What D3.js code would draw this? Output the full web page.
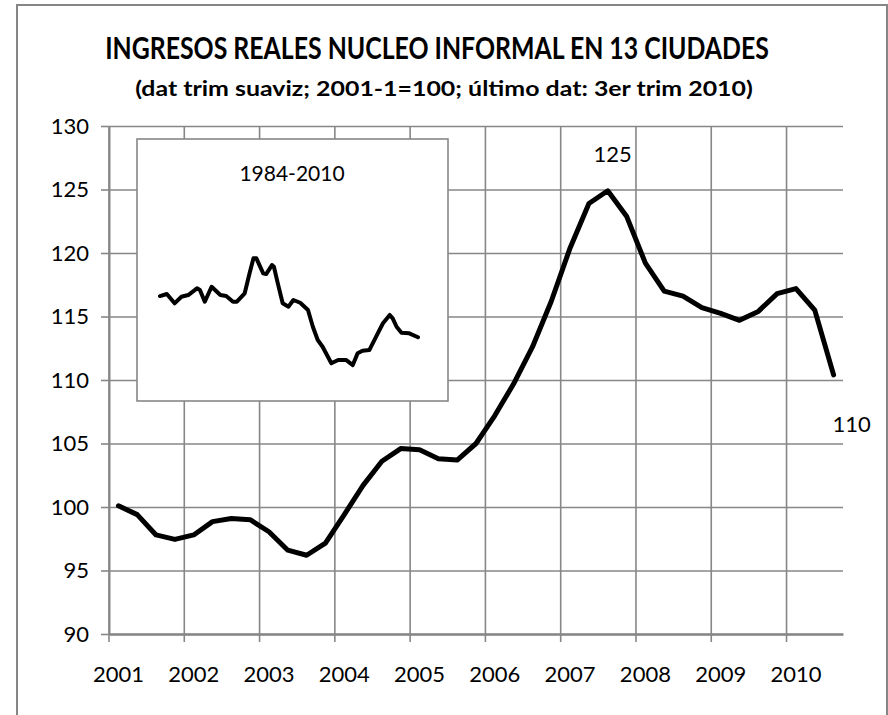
<!DOCTYPE html>
<html>
<head>
<meta charset="utf-8">
<script src="https://cdn.jsdelivr.net/npm/d3@7"></script>
<style>
  body { margin: 0; background: #fff; }
  text { font-family: Lato, "Open Sans", sans-serif; fill: #000; }
</style>
</head>
<body>
<div class="chart-container"></div>
<script>
// Data
// quarterly index, 2001-1 .. 2010-3 (2001-1 = 100)
const years = [2001, 2002, 2003, 2004, 2005, 2006, 2007, 2008, 2009, 2010];
const quarters = years.flatMap(y => [1, 2, 3, 4].map(q => `${y}-${q}`)).slice(0, 39);
const incomeIndex = [
  100.1, 99.4, 97.8, 97.45, 97.8, 98.85, 99.1, 99.0, 98.05, 96.6,
  96.2, 97.15, 99.4, 101.7, 103.6, 104.6, 104.5, 103.8, 103.7, 105.0,
  107.2, 109.7, 112.6, 116.2, 120.4, 123.9, 124.9, 122.9, 119.2, 117.0,
  116.6, 115.7, 115.25, 114.7, 115.4, 116.8, 117.2, 115.5, 110.4
];
const yTicks = [90, 95, 100, 105, 110, 115, 120, 125, 130];

// inset 1984-2010 (own hidden scale)
const insetYears = [1984.0, 1984.7, 1985.5, 1986.2, 1986.9, 1987.8, 1988.1, 1988.6, 1989.3, 1990.2,
  1990.8, 1991.5, 1991.9, 1992.7, 1993.2, 1993.6, 1993.9, 1994.6, 1994.9, 1995.5,
  1995.7, 1996.1, 1996.6, 1997.2, 1997.7, 1998.4, 1999.2, 1999.7, 2000.2, 2000.7,
  2001.6, 2002.3, 2003.1, 2003.8, 2004.3, 2004.8, 2005.5, 2006.2, 2006.9, 2007.6,
  2007.9, 2008.3, 2008.8, 2009.6, 2010.5];
const insetValues = [137.1, 138.5, 132.1, 136.6, 137.8, 142.4, 141.2, 133.2, 143.5, 137.8,
  137.1, 133.2, 133.2, 139.0, 152.7, 163.0, 163.0, 152.7, 152.2, 158.4,
  157.2, 145.8, 132.1, 129.8, 134.4, 132.5, 127.5, 116.0, 106.9, 102.3,
  90.9, 93.2, 93.2, 89.7, 97.8, 99.5, 100.0, 109.2, 118.4, 124.1,
  121.8, 116.0, 111.9, 111.5, 108.8];

const titleText = 'INGRESOS REALES NUCLEO INFORMAL EN 13 CIUDADES';
const subtitleText = '(dat trim suaviz;  2001-1=100; último dat: 3er trim 2010)';

const data = quarters.map((q, i) => ({ q, v: incomeIndex[i] }));
const insetData = insetYears.map((y, i) => ({ y, v: insetValues[i] }));

// scale a text horizontally so it spans a given width (as in the original)
function fitWidth(sel, cx, cy, targetWidth) {
  const natural = sel.node().getComputedTextLength();
  const k = targetWidth / natural;
  sel.attr('transform', `translate(${cx},${cy}) scale(${k},1)`);
}

function setupCanvas() {
  const svg_width = 888, svg_height = 715;
  const margin = { top: 126, bottom: 81, left: 109, right: 45 };
  const width = svg_width - margin.left - margin.right;
  const height = svg_height - margin.top - margin.bottom;
  const grid = '#878787';

  const svg = d3.select('.chart-container').append('svg')
    .attr('width', svg_width).attr('height', svg_height);

  // chart frame
  svg.append('rect').attr('x', 17).attr('y', 5).attr('width', 870).attr('height', 740)
    .attr('fill', '#fff').attr('stroke', '#868686').attr('stroke-width', 2);

  // titles
  const title = svg.append('text').attr('text-anchor', 'middle')
    .style('font-size', '30px').style('font-weight', 'bold').text(titleText);
  fitWidth(title, 437, 59, 664);
  const subtitle = svg.append('text').attr('text-anchor', 'middle')
    .style('font-size', '20px').style('font-weight', 'bold').text(subtitleText);
  fitWidth(subtitle, 444, 96, 618);

  const g = svg.append('g').attr('transform', `translate(${margin.left},${margin.top})`);

  // scales
  const xScale = d3.scaleBand().domain(quarters).range([0, width]).paddingInner(0).paddingOuter(0);
  const yScale = d3.scaleLinear().domain([90, 130]).range([height, 0]);
  const xLine = d => xScale(d.q) + xScale.bandwidth() / 2;

  // horizontal gridlines
  g.append('g').attr('class', 'y grid')
    .call(d3.axisLeft(yScale).tickValues(yTicks).tickSize(-width).tickFormat(''))
    .call(s => s.select('.domain').remove())
    .call(s => s.selectAll('line').attr('stroke', grid).attr('stroke-width', 1.6));

  // vertical gridlines at year boundaries
  const yearStarts = quarters.filter(q => q.endsWith('-1'));
  g.append('g').attr('class', 'x grid').selectAll('line')
    .data(yearStarts).enter().append('line')
    .attr('x1', d => xScale(d)).attr('x2', d => xScale(d))
    .attr('y1', 0).attr('y2', height + 8)
    .attr('stroke', grid).attr('stroke-width', 1.6);

  // y axis
  const yAxis = g.append('g').attr('class', 'y axis')
    .call(d3.axisLeft(yScale).tickValues(yTicks).tickSize(8).tickPadding(12).tickSizeOuter(0));
  yAxis.select('.domain').attr('stroke', grid).attr('stroke-width', 2);
  yAxis.selectAll('line').attr('stroke', grid).attr('stroke-width', 1.6);
  yAxis.selectAll('text').style('font-size', '22px').style('font-family', 'Lato, sans-serif').attr('fill', '#000');

  // x axis: labels centred on first quarter of each year
  const xAxis = g.append('g').attr('class', 'x axis').attr('transform', `translate(0,${height})`)
    .call(d3.axisBottom(xScale).tickValues(yearStarts).tickSize(0).tickPadding(32)
      .tickFormat(d => d.split('-')[0]));
  xAxis.select('.domain').attr('stroke', grid).attr('stroke-width', 2.6);
  xAxis.selectAll('text').style('font-size', '22px').style('font-family', 'Lato, sans-serif').attr('fill', '#000');

  // main line
  const line = d3.line().x(xLine).y(d => yScale(d.v));
  g.append('path').datum(data).attr('d', line)
    .attr('fill', 'none').attr('stroke', '#000').attr('stroke-width', 5)
    .attr('stroke-linejoin', 'round').attr('stroke-linecap', 'round');

  // labels for peak and last value
  const peak = data.reduce((a, b) => (b.v > a.v ? b : a));
  const last = data[data.length - 1];
  g.append('text').attr('x', xLine(peak) + 5).attr('y', yScale(peak.v) - 29)
    .attr('text-anchor', 'middle').style('font-size', '22px').text(d3.format('.0f')(peak.v));
  g.append('text').attr('x', xLine(last) + 18).attr('y', yScale(last.v) + 57)
    .attr('text-anchor', 'middle').style('font-size', '22px').text(d3.format('.0f')(last.v));

  // inset 1984-2010
  const inset = { x: 137, y: 139, w: 311, h: 262 };
  svg.append('rect').attr('x', inset.x).attr('y', inset.y).attr('width', inset.w).attr('height', inset.h)
    .attr('fill', '#fff').attr('stroke', grid).attr('stroke-width', 1.6);
  svg.append('text').attr('x', inset.x + 155).attr('y', inset.y + 42)
    .attr('text-anchor', 'middle').style('font-size', '21px').text('1984-2010');
  const ix = d3.scaleLinear().domain([1984, 2010.5]).range([inset.x + 23, inset.x + 281]);
  const iy = d3.scaleLinear().domain([65, 245]).range([inset.y + inset.h, inset.y]);
  svg.append('path').datum(insetData)
    .attr('d', d3.line().x(d => ix(d.y)).y(d => iy(d.v)))
    .attr('fill', 'none').attr('stroke', '#000').attr('stroke-width', 4)
    .attr('stroke-linejoin', 'round').attr('stroke-linecap', 'round');
}

setupCanvas();
</script>
</body>
</html>
